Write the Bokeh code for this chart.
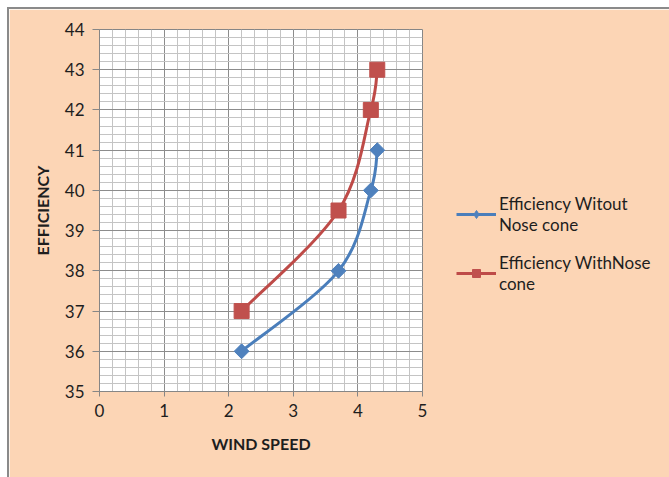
from bokeh.plotting import figure
from bokeh.models import Legend, LegendItem, SingleIntervalTicker, Range1d, ColumnDataSource
from bokeh.embed import file_html
from bokeh.resources import INLINE

# ---- data ----
wind_speed = [2.2, 3.7, 4.2, 4.3]
eff_without = [36, 38, 40, 41]
eff_with = [37, 39.5, 42, 43]
series_names = ["Efficiency Witout\nNose cone", "Efficiency WithNose\ncone"]
x_label = "WIND SPEED"
y_label = "EFFICIENCY"

BG = "#FCD5B5"
BLUE_LINE, BLUE_MK = "#4A7EBB", "#4F81BD"
RED_LINE, RED_MK = "#BE4B48", "#C0504D"
FONT = "Lato"
TXT = "#1e1e1e"


def smooth_segments(xs, ys):
    """Bezier control points (Catmull-Rom style, like Excel's smoothed line)."""
    n = len(xs)
    d = dict(x0=[], y0=[], x1=[], y1=[], cx0=[], cy0=[], cx1=[], cy1=[])
    for i in range(n - 1):
        xp, yp = (xs[i - 1], ys[i - 1]) if i > 0 else (xs[i], ys[i])
        xn, yn = (xs[i + 2], ys[i + 2]) if i + 2 < n else (xs[i + 1], ys[i + 1])
        d["x0"].append(xs[i]); d["y0"].append(ys[i])
        d["x1"].append(xs[i + 1]); d["y1"].append(ys[i + 1])
        d["cx0"].append(xs[i] + (xs[i + 1] - xp) / 6)
        d["cy0"].append(ys[i] + (ys[i + 1] - yp) / 6)
        d["cx1"].append(xs[i + 1] - (xn - xs[i]) / 6)
        d["cy1"].append(ys[i + 1] - (yn - ys[i]) / 6)
    return ColumnDataSource(d)


p = figure(frame_width=323, frame_height=362, x_range=Range1d(0, 5), y_range=Range1d(35, 44),
           output_backend="svg", toolbar_location=None,
           min_border_left=90, min_border_right=247, min_border_top=20, min_border_bottom=86,
           background_fill_color="white", border_fill_color=BG)
p.styles = {"margin-left": "7px", "margin-top": "7px",
            "border-left": "2px solid #8a8a8a", "border-top": "2px solid #8a8a8a"}

p.xaxis.ticker = SingleIntervalTicker(interval=1, num_minor_ticks=5)
p.yaxis.ticker = SingleIntervalTicker(interval=1, num_minor_ticks=5)
p.outline_line_color = "#868686"

for g in (p.xgrid, p.ygrid):
    g.grid_line_color = "#8c8c8c"
    g.grid_line_width = 1
    g.minor_grid_line_color = "#c4c4c4"
    g.minor_grid_line_width = 1

for ax in (p.xaxis, p.yaxis):
    ax.axis_line_color = "#868686"
    ax.major_tick_line_color = "#868686"
    ax.major_tick_in = 0
    ax.minor_tick_in = 0
    ax.minor_tick_out = 0
    ax.major_label_text_font = FONT
    ax.major_label_text_font_size = "17px"
    ax.major_label_text_color = TXT
    ax.axis_label_text_font = FONT
    ax.axis_label_text_font_size = "16px"
    ax.axis_label_text_font_style = "bold"
    ax.axis_label_text_color = TXT

p.yaxis.major_tick_out = 7
p.yaxis.major_label_standoff = 8
p.yaxis.axis_label = y_label
p.yaxis.axis_label_standoff = 10
p.xaxis.major_tick_out = 5
p.xaxis.major_label_standoff = 7
p.xaxis.axis_label = x_label
p.xaxis.axis_label_standoff = 14

bz_b = p.bezier(x0="x0", y0="y0", x1="x1", y1="y1", cx0="cx0", cy0="cy0", cx1="cx1", cy1="cy1",
                source=smooth_segments(wind_speed, eff_without), line_color=BLUE_LINE, line_width=3)
# diamond (used for the legend glyph), covered by the rotated square drawn on top
dm_b = p.scatter(wind_speed, eff_without, marker="diamond", size=13,
                 fill_color=BLUE_MK, line_color=BLUE_MK)
sc_b = p.scatter(wind_speed, eff_without, marker="square", angle=0.7854, size=10.5,
                 fill_color=BLUE_MK, line_color=BLUE_MK)
bz_r = p.bezier(x0="x0", y0="y0", x1="x1", y1="y1", cx0="cx0", cy0="cy0", cx1="cx1", cy1="cy1",
                source=smooth_segments(wind_speed, eff_with), line_color=RED_LINE, line_width=3)
sc_r = p.scatter(wind_speed, eff_with, marker="square", size=15,
                 fill_color=RED_MK, line_color=RED_MK)

legend = Legend(items=[LegendItem(label=series_names[0], renderers=[bz_b, dm_b]),
                       LegendItem(label=series_names[1], renderers=[bz_r, sc_r])],
                location=(34, 97), background_fill_alpha=0, border_line_alpha=0,
                label_text_font=FONT, label_text_font_size="17px", label_text_color=TXT,
                label_text_line_height=1.3, glyph_width=40, label_standoff=3,
                spacing=17, padding=0, margin=0)
p.add_layout(legend, "right")

open("out.html", "w").write(file_html(p, INLINE))
